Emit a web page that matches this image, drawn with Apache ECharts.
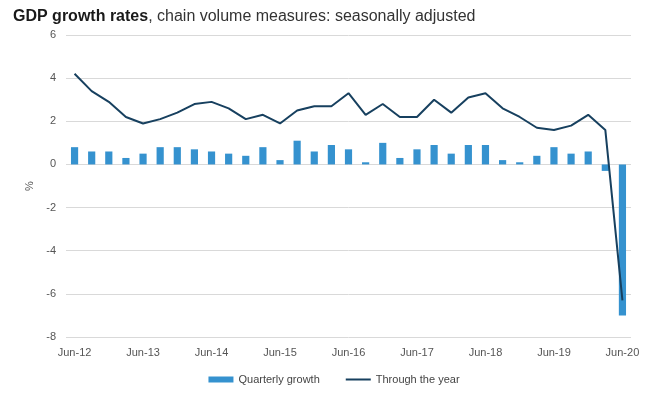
<!DOCTYPE html>
<html>
<head>
<meta charset="utf-8">
<script src="https://cdn.jsdelivr.net/npm/echarts@6/dist/echarts.min.js"></script>
<style>
  html, body { margin: 0; padding: 0; background: #fff; }
  #chart { width: 668px; height: 397px; }
</style>
</head>
<body>
<div id="chart"></div>
<script>
// quarters Jun-12 .. Jun-20
const years = ['12', '13', '14', '15', '16', '17', '18', '19', '20']
const months = ['Jun', 'Sep', 'Dec', 'Mar']

const quarters = []
years.forEach(function (y, i) {
  months.forEach(function (m, j) {
    // Mar belongs to the next calendar year
    const yr = m === 'Mar' ? years[i + 1] : y
    if (yr && quarters.length < 33) quarters.push(m + '-' + yr)
  })
})

const quarterlyGrowth = [
  0.8, 0.6, 0.6, 0.3, 0.5, 0.8, 0.8, 0.7, 0.6, 0.5, 0.4, 0.8, 0.2, 1.1, 0.6, 0.9,
  0.7, 0.1, 1.0, 0.3, 0.7, 0.9, 0.5, 0.9, 0.9, 0.2, 0.1, 0.4, 0.8, 0.5, 0.6, -0.3,
  -7.0
]
const throughTheYear = [
  4.2, 3.4, 2.9, 2.2, 1.9, 2.1, 2.4, 2.8, 2.9, 2.6, 2.1, 2.3, 1.9, 2.5, 2.7, 2.7,
  3.3, 2.3, 2.8, 2.2, 2.2, 3.0, 2.4, 3.1, 3.3, 2.6, 2.2, 1.7, 1.6, 1.8, 2.3, 1.6,
  -6.3
]

const chart = echarts.init(document.getElementById('chart'))
const labelFont = 'Liberation Sans'

// thin line icon, padded top/bottom so it isn't stretched to full item height
const lineIcon = 'path://M0,1.9 h25 v2.2 h-25 Z M0,0 h0.01 v0.01 h-0.01 Z M0,5.99 h0.01 v0.01 h-0.01 Z'

chart.setOption({
  animation: false,
  title: {
    left: 8,
    top: 4,
    text: '{b|GDP growth rates}{n|, chain volume measures: seasonally adjusted}',
    textStyle: {
      fontWeight: 'normal',
      rich: {
        b: { fontFamily: 'Liberation Sans', fontSize: 16, fontWeight: 'bold', color: '#1a1a1a' },
        n: { fontFamily: 'Liberation Sans', fontSize: 16, fontWeight: 'normal', color: '#333' }
      }
    }
  },
  legend: {
    bottom: 7,
    left: 'center',
    itemGap: 26,
    textStyle: { fontFamily: labelFont, fontSize: 11, color: '#444' },
    data: [
      { name: 'Quarterly growth', icon: 'rect', itemStyle: { color: '#3592cf' } },
      { name: 'Through the year', icon: lineIcon, itemStyle: { color: '#17405f' } }
    ],
    itemWidth: 25,
    itemHeight: 6
  },
  grid: {
    left: 66,
    right: 37,
    top: 35,
    bottom: 60
  },
  xAxis: {
    type: 'category',
    data: quarters,
    axisTick: { show: false },
    axisLine: { show: false },
    axisLabel: {
      interval: 3,
      fontFamily: labelFont,
      fontSize: 11,
      color: '#555',
      margin: 10
    }
  },
  yAxis: {
    type: 'value',
    min: -8,
    max: 6,
    interval: 2,
    name: '%',
    nameLocation: 'middle',
    nameGap: 30,
    nameRotate: 90,
    nameTextStyle: { fontFamily: labelFont, fontSize: 11, color: '#555' },
    axisLabel: { fontFamily: labelFont, fontSize: 11, color: '#555', margin: 10 },
    splitLine: { lineStyle: { color: '#d9d9d9' } }
  },
  series: [
    {
      name: 'Quarterly growth',
      type: 'bar',
      data: quarterlyGrowth,
      barWidth: '42%',
      itemStyle: { color: '#3592cf' }
    },
    {
      name: 'Through the year',
      type: 'line',
      data: throughTheYear,
      symbol: 'none',
      lineStyle: { color: '#17405f', width: 2 },
      itemStyle: { color: '#17405f' }
    }
  ]
})
</script>
</body>
</html>
